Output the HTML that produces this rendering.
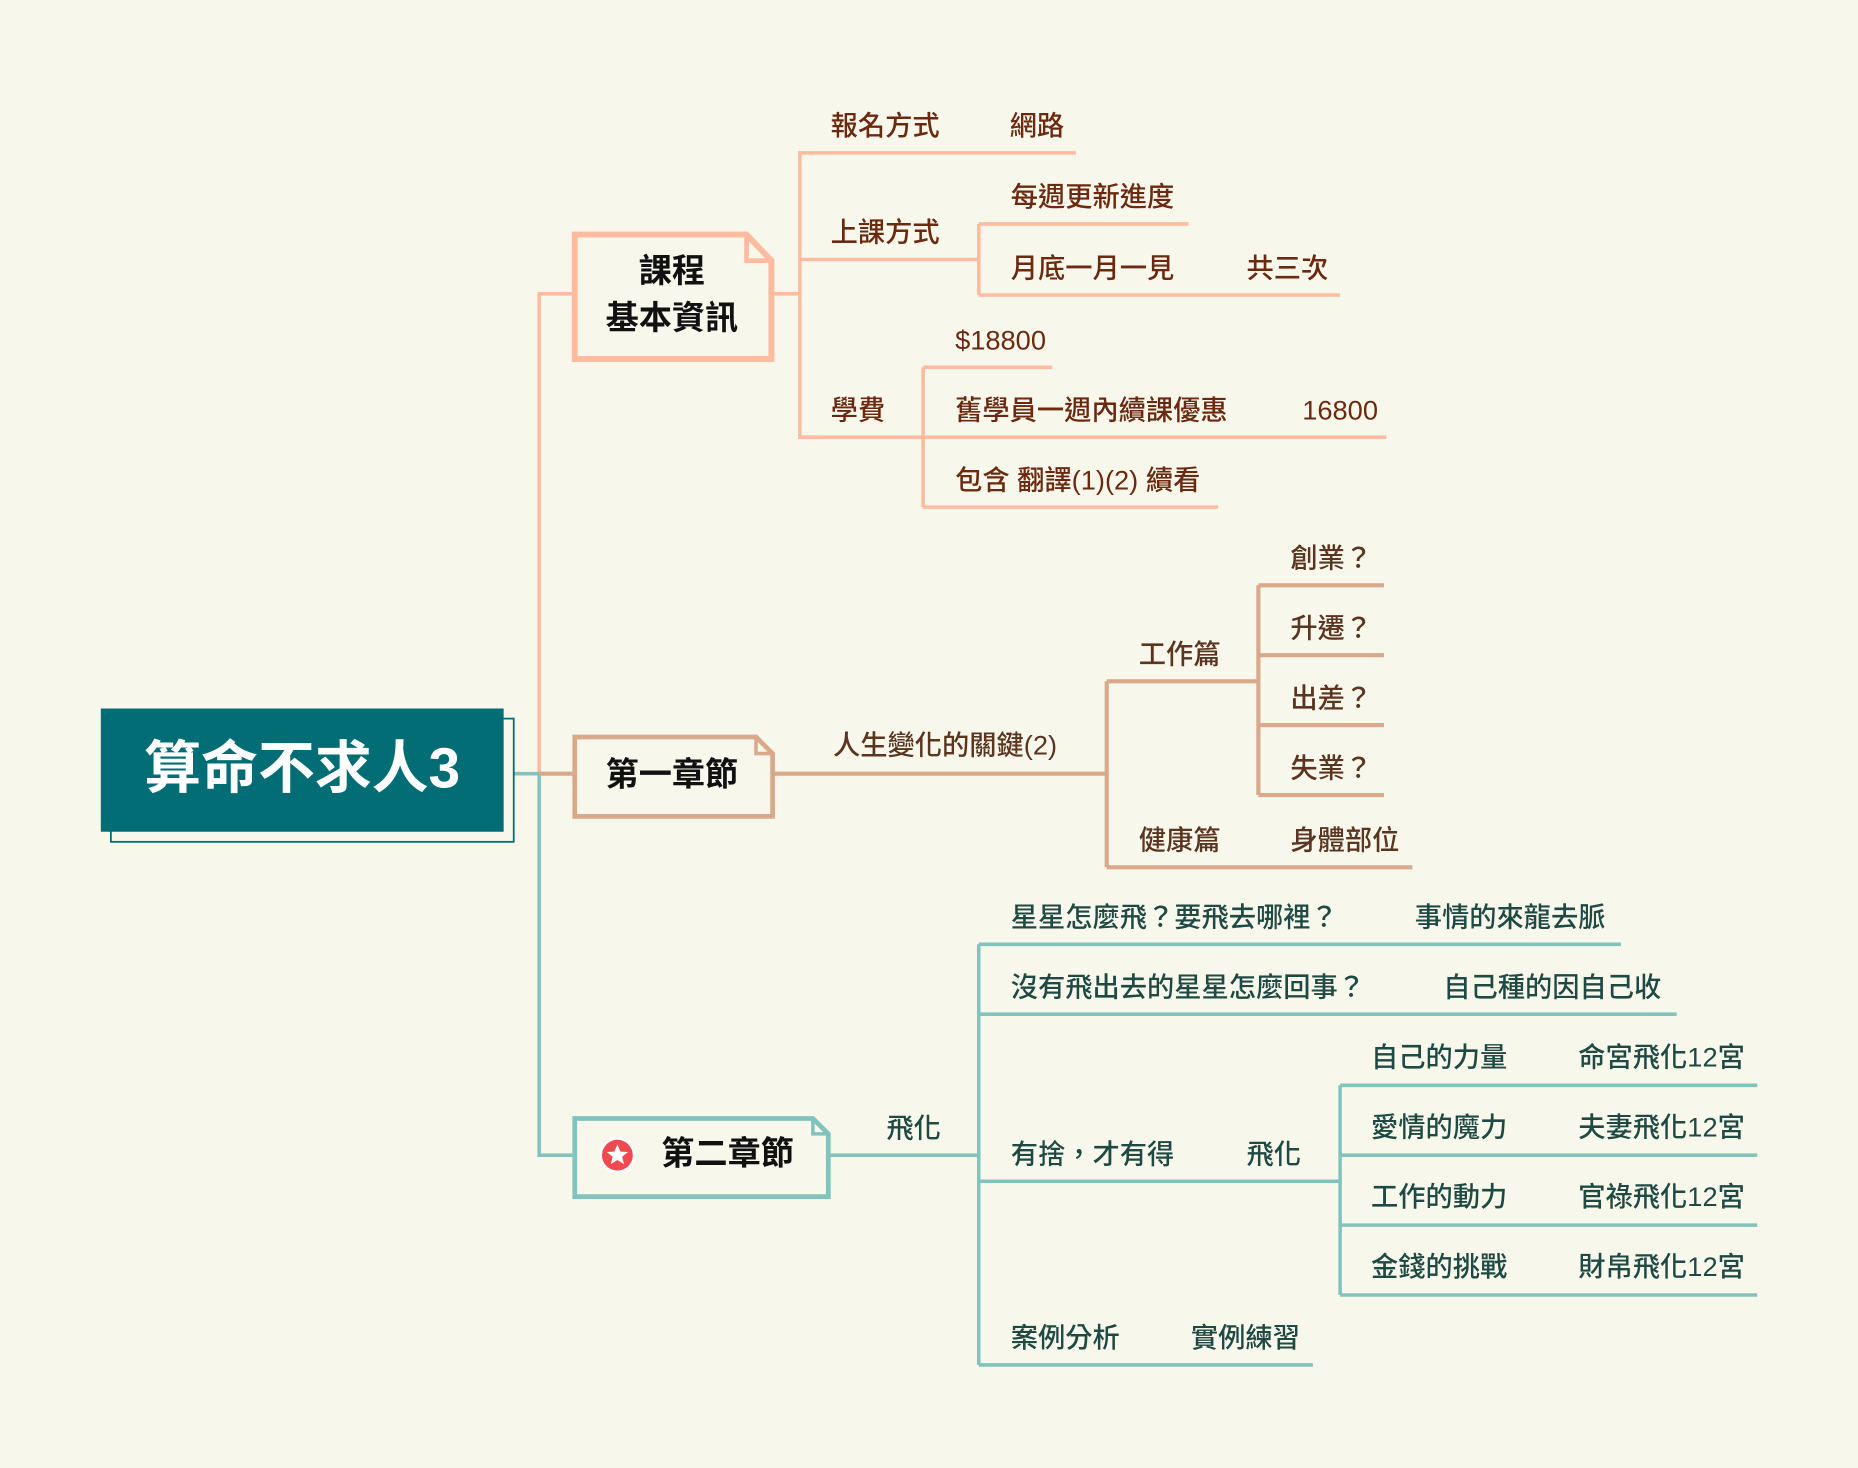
<!DOCTYPE html>
<html><head><meta charset="utf-8"><style>
html,body{margin:0;padding:0;background:#f8f7ec;}
svg{display:block;}
text{font-family:"Liberation Sans","Noto Sans CJK TC",sans-serif;dominant-baseline:central;}
.a{fill:#6b2a10;font-size:23px;font-weight:500;}
.b{fill:#5a3520;font-size:23px;font-weight:500;}
.c{fill:#1f4a44;font-size:23px;font-weight:500;}
.p{stroke:#fdbc9f;stroke-width:3;fill:none;}
.t{stroke:#d9a98c;stroke-width:3.5;fill:none;}
.g{stroke:#82c4bd;stroke-width:3;fill:none;}
.h{font-size:28px;font-weight:700;fill:#111;text-anchor:middle;}
</style></head><body>
<svg width="1858" height="1468" viewBox="0 0 1568 1239" xmlns="http://www.w3.org/2000/svg">
<rect width="1568" height="1239" fill="#f8f7ec"/>
<path class="p" d="M455 653 V248 H483" stroke-width="4"/>
<path class="g" d="M433 653 H455 V975 H483" stroke-width="4"/>
<path class="t" d="M455 653 H483"/>
<rect x="93.5" y="606.5" width="340" height="104" fill="none" stroke="#026d74" stroke-width="1.5"/>
<rect x="85" y="598" width="340" height="104" fill="#026d74"/>
<text x="255" y="649" fill="#fff" font-size="48" font-weight="700" text-anchor="middle">算命不求人3</text>
<path d="M485 198 H630 L651 220 V303 H485 Z" fill="#f8f7ec" stroke="#fdbc9f" stroke-width="5"/>
<path d="M630 198 V220 H651" fill="none" stroke="#fdbc9f" stroke-width="4"/>
<text class="h" x="567" y="229">課程</text>
<text class="h" x="567" y="269">基本資訊</text>
<path class="p" d="M653 248 H675" stroke-width="4"/>
<path class="p" d="M690 129 H675 V369 H690" stroke-width="4"/>
<path class="p" d="M675 129 H908 M675 219 H826 M826 189 V249 M826 189 H1003 M826 249 H1131 M675 369 H1170 M779 310 V428 M779 310 H888 M779 428 H1028"/>
<text class="a" x="701" y="106">報名方式</text><text class="a" x="852" y="106">網路</text>
<text class="a" x="701" y="196">上課方式</text>
<text class="a" x="853" y="166">每週更新進度</text>
<text class="a" x="853" y="226">月底一月一見</text><text class="a" x="1052" y="226">共三次</text>
<text class="a" x="701" y="346">學費</text>
<text class="a" x="806" y="287">$18800</text>
<text class="a" x="806" y="346">舊學員一週內續課優惠</text><text class="a" x="1099" y="346">16800</text>
<text class="a" x="806" y="405">包含 翻譯(1)(2) 續看</text>
<path d="M485 622 H638 L652 636 V689 H485 Z" fill="#f8f7ec" stroke="#d9a98c" stroke-width="4"/>
<path d="M638 622 V636 H652" fill="none" stroke="#d9a98c" stroke-width="3"/>
<text class="h" x="567" y="654">第一章節</text>
<path class="t" d="M653 653 H934 M934 575 V732 M934 575 H1062 M1062 494 V671 M1062 494 H1168 M1062 553 H1168 M1062 612 H1168 M1062 671 H1168 M934 732 H1192"/>
<text class="b" x="703" y="629">人生變化的關鍵(2)</text>
<text class="b" x="961" y="552">工作篇</text>
<text class="b" x="1089" y="471">創業？</text>
<text class="b" x="1089" y="530">升遷？</text>
<text class="b" x="1089" y="589">出差？</text>
<text class="b" x="1089" y="648">失業？</text>
<text class="b" x="961" y="709">健康篇</text><text class="b" x="1089" y="709">身體部位</text>
<path d="M485 944 H686 L699 957 V1010 H485 Z" fill="#f8f7ec" stroke="#82c4bd" stroke-width="4"/>
<path d="M686 944 V957 H699" fill="none" stroke="#82c4bd" stroke-width="3"/>
<circle cx="521" cy="975" r="15" fill="#fff"/>
<circle cx="521" cy="975" r="13" fill="#f04a50"/>
<polygon points="521,966 523.6,972 530,972.3 525,976.3 526.6,982.5 521,979 515.4,982.5 517,976.3 512,972.3 518.4,972" fill="#fff"/>
<text class="h" x="614" y="974">第二章節</text>
<path class="g" d="M700 975 H826 M826 797 V1152 M826 797 H1368 M826 856 H1415 M826 997 H1131 M1131 916 V1093 M1131 916 H1483 M1131 975 H1483 M1131 1034 H1483 M1131 1093 H1483 M826 1152 H1108"/>
<text class="c" x="748" y="952">飛化</text>
<text class="c" x="853" y="774">星星怎麼飛？要飛去哪裡？</text><text class="c" x="1194" y="774">事情的來龍去脈</text>
<text class="c" x="853" y="833">沒有飛出去的星星怎麼回事？</text><text class="c" x="1218" y="833">自己種的因自己收</text>
<text class="c" x="853" y="974">有捨，才有得</text><text class="c" x="1052" y="974">飛化</text>
<text class="c" x="1157" y="892">自己的力量</text><text class="c" x="1332" y="892">命宮飛化12宮</text>
<text class="c" x="1157" y="951">愛情的魔力</text><text class="c" x="1332" y="951">夫妻飛化12宮</text>
<text class="c" x="1157" y="1010">工作的動力</text><text class="c" x="1332" y="1010">官祿飛化12宮</text>
<text class="c" x="1157" y="1069">金錢的挑戰</text><text class="c" x="1332" y="1069">財帛飛化12宮</text>
<text class="c" x="853" y="1129">案例分析</text><text class="c" x="1005" y="1129">實例練習</text>
</svg>
</body></html>
